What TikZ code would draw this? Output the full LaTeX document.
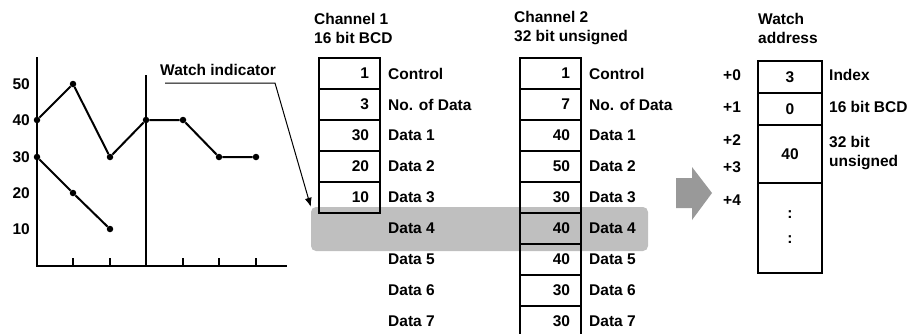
\documentclass[tikz,border=0pt]{standalone}
\usepackage{fontspec}
\setmainfont{Liberation Sans}
\usepackage{tikz}
\usetikzlibrary{arrows.meta,positioning}
\newcommand{\diagfont}{\fontsize{15.5}{19}\selectfont\bfseries}

\begin{document}
\begin{tikzpicture}[x=1pt, y=1pt,
    every node/.style={font=\diagfont},
    cell/.style={draw, line width=2pt, minimum height=31pt,
      text width=39pt, inner xsep=11pt, inner ysep=0pt, align=right},
    wcell/.style={draw, line width=2pt, minimum width=64pt,
      inner sep=0pt, align=center},
    tag/.style={right, inner sep=0pt},
    dot/.style={circle, fill=black, inner sep=0pt, minimum size=6.5pt},
    trace/.style={line width=2pt},
    >={Latex[length=9pt,width=7pt]}
  ]
  \useasboundingbox (0,0) rectangle (910,-333);

  % Watch band (behind the tables)
  \node[fill=gray!50, rounded corners=5pt, minimum width=337pt,
    minimum height=44pt, inner sep=0pt] (band) at (479.5,-229) {};

  % Chart
  \draw[trace] (37,-57) -- (37,-266) -- (287,-266);
  \draw[line width=1.2pt] (73,-258) -- (73,-266);
  \draw[line width=1.2pt] (110,-258) -- (110,-266);
  \draw[line width=1.2pt] (183,-258) -- (183,-266);
  \draw[line width=1.2pt] (219,-258) -- (219,-266);
  \draw[line width=1.2pt] (256,-258) -- (256,-266);
  \draw[line width=1.2pt] (146,-75) -- (146,-266);

  \node[left, inner sep=0pt] (y50) at (30,-84) {50};
  \node[left, inner sep=0pt] (y40) at (30,-120) {40};
  \node[left, inner sep=0pt] (y30) at (30,-157) {30};
  \node[left, inner sep=0pt] (y20) at (30,-193) {20};
  \node[left, inner sep=0pt] (y10) at (30,-229) {10};

  \node[dot] (a1) at (37,-120) {};
  \node[dot] (a2) at (73,-84) {};
  \node[dot] (a3) at (110,-157) {};
  \node[dot] (a4) at (146,-120) {};
  \node[dot] (a5) at (183,-120) {};
  \node[dot] (a6) at (219,-157) {};
  \node[dot] (a7) at (256,-157) {};
  \draw[trace] (a1) -- (a2) -- (a3) -- (a4) -- (a5) -- (a6) -- (a7);

  \node[dot] (b1) at (37,-157) {};
  \node[dot] (b2) at (73,-193) {};
  \node[dot] (b3) at (110,-229) {};
  \draw[trace] (b1) -- (b2) -- (b3);

  % Watch indicator
  \node[tag] (ind) at (160,-70) {Watch indicator};
  \coordinate (indL) at (165,-83);
  \coordinate (indR) at (275,-83);
  \draw[->, line width=1pt] (indL) -- (indR) -- (band.north west);

  % Channel 1
  \node[tag, align=left] (ch1) at (314,-28.5) {Channel 1\\16 bit BCD};
  \node[cell] (c1ctl) at (349.5,-73.5) {1};
  \node[cell] (c1num) at (349.5,-104.5) {3};
  \node[cell] (c1d1) at (349.5,-135.5) {30};
  \node[cell] (c1d2) at (349.5,-166.5) {20};
  \node[cell] (c1d3) at (349.5,-197.5) {10};
  \node[tag] at (388,-73.5) {Control};
  \node[tag] at (388,-104.5) {No. of Data};
  \node[tag] at (388,-135.5) {Data 1};
  \node[tag] at (388,-166.5) {Data 2};
  \node[tag] at (388,-197.5) {Data 3};
  \node[tag] at (388,-228.5) {Data 4};
  \node[tag] at (388,-259.5) {Data 5};
  \node[tag] at (388,-290.5) {Data 6};
  \node[tag] at (388,-321.5) {Data 7};

  % Channel 2
  \node[tag, align=left] (ch2) at (514,-28.5) {Channel 2\\32 bit unsigned};
  \node[cell] (c2ctl) at (550.5,-73.5) {1};
  \node[cell] (c2num) at (550.5,-104.5) {7};
  \node[cell] (c2d1) at (550.5,-135.5) {40};
  \node[cell] (c2d2) at (550.5,-166.5) {50};
  \node[cell] (c2d3) at (550.5,-197.5) {30};
  \node[cell] (c2d4) at (550.5,-228.5) {40};
  \node[cell] (c2d5) at (550.5,-259.5) {40};
  \node[cell] (c2d6) at (550.5,-290.5) {30};
  \node[cell] (c2d7) at (550.5,-321.5) {30};
  \node[tag] at (589,-73.5) {Control};
  \node[tag] at (589,-104.5) {No. of Data};
  \node[tag] at (589,-135.5) {Data 1};
  \node[tag] at (589,-166.5) {Data 2};
  \node[tag] at (589,-197.5) {Data 3};
  \node[tag] at (589,-228.5) {Data 4};
  \node[tag] at (589,-259.5) {Data 5};
  \node[tag] at (589,-290.5) {Data 6};
  \node[tag] at (589,-321.5) {Data 7};

  % Big arrow
  \fill[gray!80] (676,-178) -- (692,-178) -- (692,-167) -- (712,-193)
    -- (692,-220) -- (692,-208) -- (676,-208) -- cycle;

  % Watch address
  \node[tag, align=left] (wa) at (758,-28.5) {Watch\\address};
  \node[wcell, minimum height=32pt] (wa0) at (790,-77) {3};
  \node[wcell, minimum height=32pt] (wa1) at (790,-109) {0};
  \node[wcell, minimum height=58pt] (wa2) at (790,-154) {40};
  \node[wcell, minimum height=90pt] (wa3) at (790,-228) {};
  \node (dt1) at (790,-215) {:};
  \node (dt2) at (790,-240) {:};

  \node[tag] at (723,-75) {+0};
  \node[tag] at (723,-107) {+1};
  \node[tag] at (723,-140) {+2};
  \node[tag] at (723,-167) {+3};
  \node[tag] at (723,-200) {+4};

  \node[tag] at (829,-75) {Index};
  \node[tag] at (829,-107) {16 bit BCD};
  \node[tag, align=left] at (829,-153) {32 bit\\unsigned};
\end{tikzpicture}
\end{document}
